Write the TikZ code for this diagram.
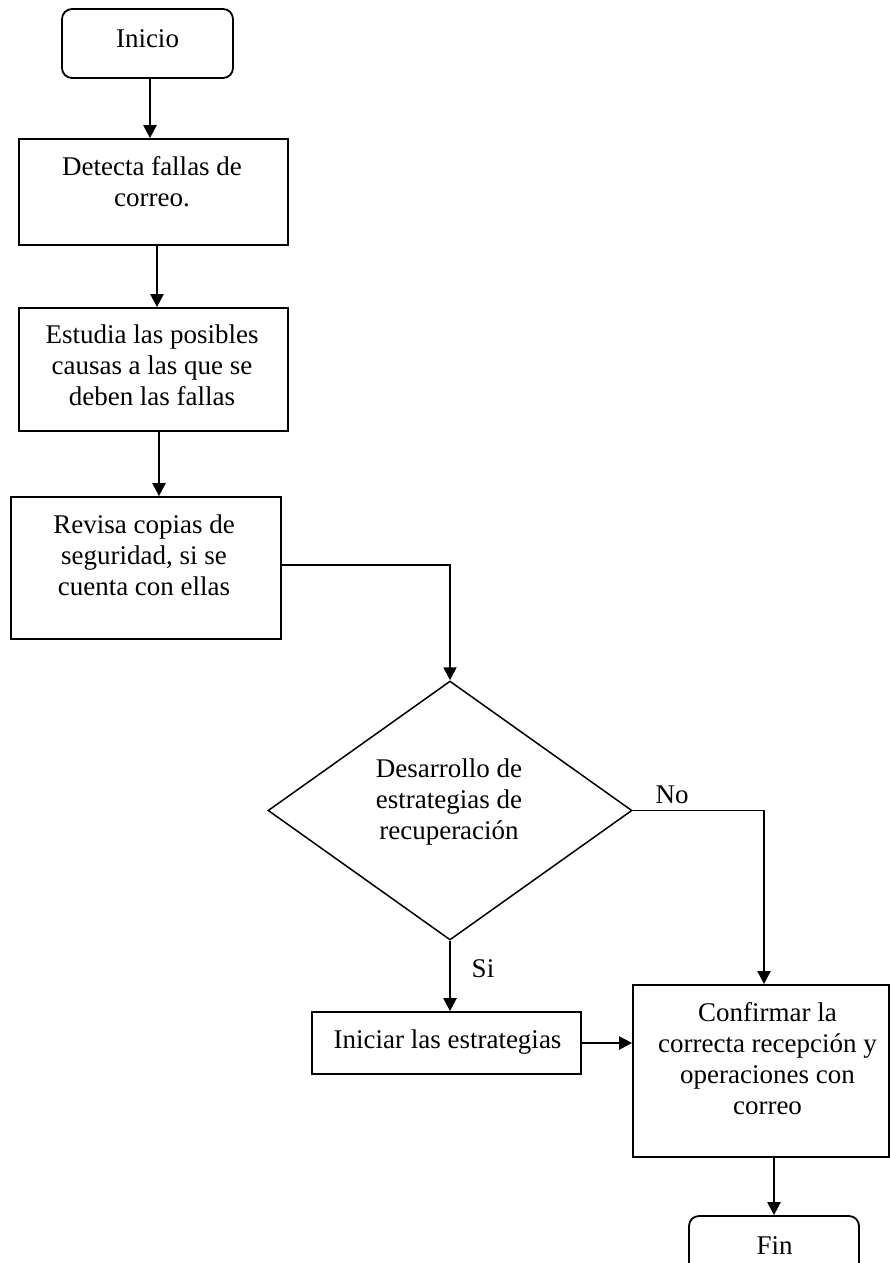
\documentclass[tikz,border=0pt]{standalone}
\usepackage{fontspec}
\setmainfont{Liberation Serif}
\usetikzlibrary{shapes.geometric,arrows.meta}

\begin{document}
\begin{tikzpicture}[x=1pt,y=-1pt,
        caja/.style={draw=black, line width=1.8pt, inner sep=0pt},
        terminal/.style={caja, rounded corners=10pt},
        decision/.style={draw=black, diamond, line width=1.5pt, inner sep=0pt},
        texto/.style={anchor=north, inner sep=0pt, align=center, font=\fontsize{27}{31}\selectfont},
        flecha/.style={draw=black, line width=2.4pt, -{Triangle[length=13pt,width=13pt]}}]

        \useasboundingbox (0,0) rectangle (890,1263);
        \clip (0,0) rectangle (890,1263);

        \node[terminal, minimum width=171pt, minimum height=69pt] (inicio) at (147.5,43.5) {};
        \node[caja, minimum width=269pt, minimum height=106pt] (detecta) at (153.5,192) {};
        \node[caja, minimum width=269pt, minimum height=123pt] (estudia) at (153.5,369.5) {};
        \node[caja, minimum width=270pt, minimum height=142pt] (revisa) at (146,568) {};
        \node[decision, minimum width=364pt, minimum height=259pt] (desarrollo) at (450,810.5) {};
        \node[caja, minimum width=269pt, minimum height=62pt] (iniciar) at (446.5,1043) {};
        \node[caja, minimum width=256pt, minimum height=172pt] (confirmar) at (761,1071) {};
        \node[terminal, minimum width=170pt, minimum height=69pt] (fin) at (774,1250.5) {};

        \node[texto] (inicio-t) at (147.5,29.5) {Inicio};
        \node[texto] (detecta-t) at (152,156.5) {Detecta fallas de\\correo.};
        \node[texto] (estudia-t) at (152,324.5) {Estudia las posibles\\causas a las que se\\deben las fallas};
        \node[texto] (revisa-t) at (144,515) {Revisa copias de\\seguridad, si se\\cuenta con ellas};
        \node[texto] (desarrollo-t) at (449,758.5) {Desarrollo de\\estrategias de\\recuperación};
        \node[texto] (iniciar-t) at (447.5,1029.5) {Iniciar las estrategias};
        \node[texto] (confirmar-t) at (767.5,1002.5) {Confirmar la\\correcta recepción y\\operaciones con\\correo};
        \node[texto] (fin-t) at (774.5,1236.5) {Fin};

        \node[texto] (si) at (483,959) {Si};
        \node[texto] (no) at (672,786) {No};

        \draw[flecha] ([xshift=2.5pt]inicio.south) -- ([xshift=2.5pt]inicio.south |- detecta.north);
        \draw[flecha] ([xshift=3.5pt]detecta.south) -- ([xshift=3.5pt]estudia.north);
        \draw[flecha] ([xshift=5.5pt]estudia.south) -- ([xshift=5.5pt]estudia.south |- revisa.north);
        \draw[flecha, line width=1.8pt] ([yshift=3pt]revisa.east) -| (desarrollo.north);
        \draw[flecha] (desarrollo.south) -- (desarrollo.south |- iniciar.north);
        \draw[flecha, line width=1.8pt] (desarrollo.east) -| ([xshift=3pt]confirmar.north);
        \draw[flecha] (iniciar.east) -- (iniciar.east -| confirmar.west);
        \draw[flecha] (fin.north |- confirmar.south) -- (fin.north);

\end{tikzpicture}
\end{document}
